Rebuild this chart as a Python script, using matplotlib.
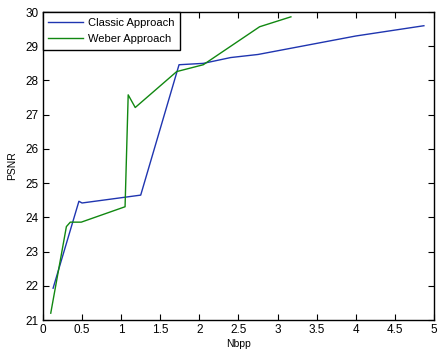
import matplotlib
matplotlib.use("Agg")
import matplotlib.pyplot as plt

classic_x = [0.13, 0.46, 0.50, 1.25, 1.74, 2.05, 2.40, 2.75, 4.00, 4.87]
classic_y = [21.93, 24.47, 24.42, 24.65, 28.46, 28.50, 28.67, 28.76, 29.30, 29.60]
weber_x = [0.10, 0.30, 0.35, 0.49, 1.05, 1.09, 1.18, 1.71, 2.05, 2.77, 3.17]
weber_y = [21.20, 23.73, 23.86, 23.86, 24.31, 27.58, 27.21, 28.26, 28.46, 29.57, 29.86]

plt.rcParams['font.family'] = ['Liberation Sans', 'DejaVu Sans']

fig = plt.figure(figsize=(4.38, 3.54), dpi=100)
ax = fig.add_axes([0.098, 0.096, 0.893, 0.870])
ax.plot(classic_x, classic_y, color='#1f35b0', lw=1.0, label='Classic Approach')
ax.plot(weber_x, weber_y, color='#118811', lw=1.0, label='Weber Approach')
ax.set_xlim(0, 5)
ax.set_ylim(21, 30)
ax.set_xticks([0, 0.5, 1, 1.5, 2, 2.5, 3, 3.5, 4, 4.5, 5])
ax.set_xticklabels(['0', '0.5', '1', '1.5', '2', '2.5', '3', '3.5', '4', '4.5', '5'])
ax.set_yticks(range(21, 31))
ax.tick_params(direction='in', top=True, right=True, labelsize=8.5, length=4, width=0.8, pad=3)
for s in ax.spines.values():
    s.set_linewidth(1.0)
ax.set_xlabel('Nbpp', fontsize=7.5, labelpad=2)
ax.set_ylabel('PSNR', fontsize=7.5, labelpad=6)
leg = ax.legend(loc='upper left', bbox_to_anchor=(0, 1), borderaxespad=0, fontsize=8,
                fancybox=False, edgecolor='black', framealpha=1, handlelength=3.1,
                handletextpad=0.45, borderpad=0.5, labelspacing=0.6)
leg.get_frame().set_linewidth(1.0)
fig.savefig('out.png', dpi=100)
